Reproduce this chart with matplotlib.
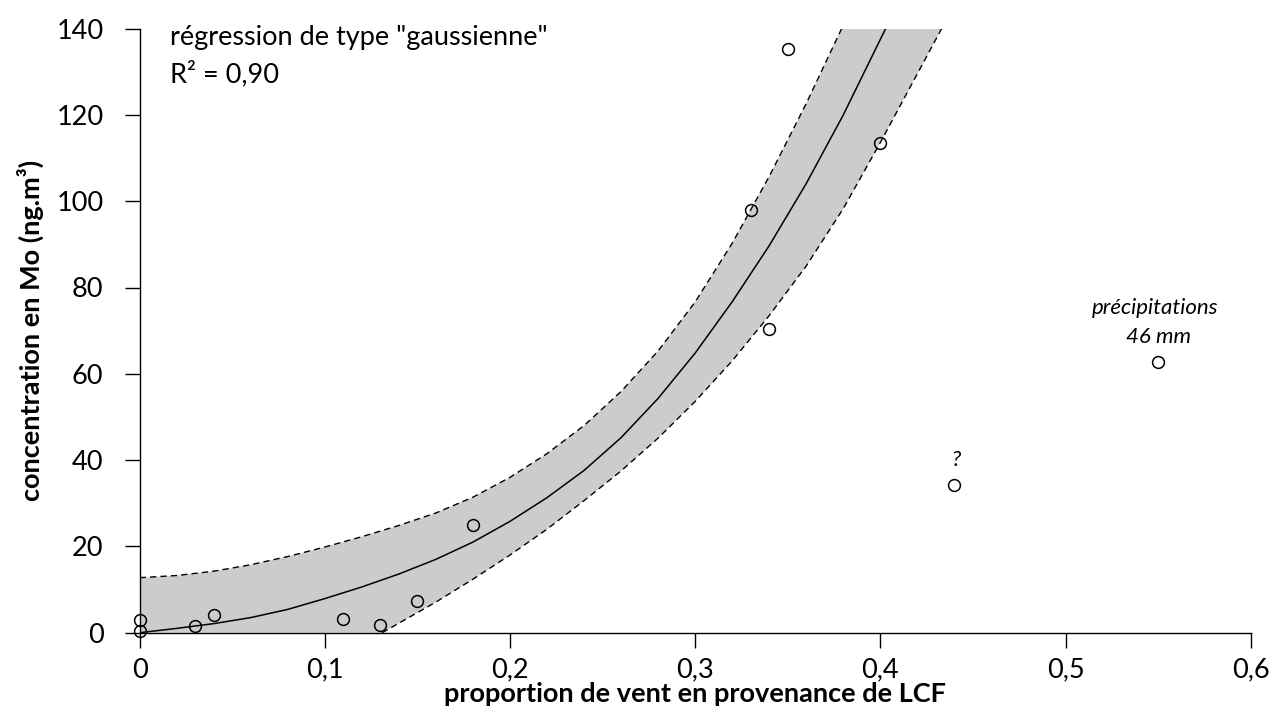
import matplotlib
matplotlib.use('Agg')
import matplotlib.pyplot as plt

plt.rcParams['font.family'] = ['Lato', 'DejaVu Sans']

# observed points
x_obs = [0.0, 0.0, 0.03, 0.04, 0.11, 0.13, 0.15, 0.18, 0.33, 0.34, 0.35, 0.40, 0.44, 0.55]
y_obs = [2.9, 0.4, 1.5, 4.2, 3.2, 1.9, 7.4, 24.9, 98.0, 70.3, 135.2, 113.5, 34.2, 62.7]

# fitted "gaussian" curve
fit_x = [0.00, 0.02, 0.04, 0.06, 0.08, 0.10, 0.12, 0.14, 0.16, 0.18, 0.20,
         0.22, 0.24, 0.26, 0.28, 0.30, 0.32, 0.34, 0.36, 0.38, 0.40, 0.4029]
fit_y = [0.0, 1.0, 2.1, 3.5, 5.4, 7.9, 10.6, 13.6, 17.0, 21.0, 25.8,
         31.3, 37.6, 45.2, 54.3, 64.8, 76.7, 89.7, 104.1, 120.0, 137.5, 140.0]

# upper confidence bound
up_x = [0.00, 0.02, 0.04, 0.06, 0.08, 0.10, 0.12, 0.14, 0.16, 0.18, 0.20,
        0.22, 0.24, 0.26, 0.28, 0.30, 0.32, 0.34, 0.36, 0.3791]
up_y = [12.75, 13.25, 14.25, 15.75, 17.65, 19.85, 22.25, 24.85, 27.75, 31.4, 36.0,
        41.5, 48.0, 55.9, 65.3, 76.65, 90.25, 105.75, 122.65, 140.0]

# lower confidence bound
lo_x = [0.131, 0.14, 0.16, 0.18, 0.20, 0.22, 0.24, 0.26, 0.28, 0.30,
        0.32, 0.34, 0.36, 0.38, 0.40, 0.4331]
lo_y = [0.0, 2.2, 7.1, 12.4, 18.0, 24.0, 30.6, 37.5, 45.1, 53.6,
        63.0, 73.5, 85.0, 98.3, 113.6, 140.0]

x_ticks = [0.0, 0.1, 0.2, 0.3, 0.4, 0.5, 0.6]
x_tick_labels = ['0', '0,1', '0,2', '0,3', '0,4', '0,5', '0,6']
y_ticks = [0, 20, 40, 60, 80, 100, 120, 140]

W, H = 1272, 724
fig = plt.figure(figsize=(W / 100, H / 100), dpi=100)
ax_l, ax_b, ax_w, ax_h = 139.6 / W, 91.3 / H, 1111.1 / W, 604.1 / H
ax = fig.add_axes([ax_l, ax_b, ax_w, ax_h])

# band
poly_x = [0.0] + up_x + [lo_x[-1]] + lo_x[::-1] + [0.0]
poly_y = [0.0] + up_y + [up_y[-1]] + lo_y[::-1] + [0.0]
ax.fill(poly_x, poly_y, color='#cccccc', lw=0, zorder=1)
ax.plot(up_x, up_y, color='black', lw=1.0, ls=(0, (4.5, 3)), zorder=2)
ax.plot(lo_x, lo_y, color='black', lw=1.0, ls=(0, (4.5, 3)), zorder=2)
ax.plot(fit_x, fit_y, color='black', lw=1.1, zorder=3, solid_joinstyle='round')

ax.plot(x_obs, y_obs, ls='none', marker='o', ms=8.5, mfc='none', mec='black',
        mew=1.1, clip_on=False, zorder=4)

ax.set_xlim(0, 0.6)
ax.set_ylim(0, 140)
ax.set_xticks(x_ticks)
ax.set_xticklabels(x_tick_labels)
ax.set_yticks(y_ticks)
for s in ['top', 'right']:
    ax.spines[s].set_visible(False)
for s in ['left', 'bottom']:
    ax.spines[s].set_linewidth(1.0)
ax.tick_params(axis='both', length=11, width=1.0, labelsize=19.5, colors='black')
ax.tick_params(axis='y', pad=15)
ax.tick_params(axis='x', pad=7)

xl = ax.set_xlabel('proportion de vent en provenance de LCF', fontsize=19.5, fontweight='bold')
xl.set_va('center')
ax.xaxis.set_label_coords(0.5, (30 - 91.3) / 604.1)
yl = ax.set_ylabel('concentration en Mo (ng.m³)', fontsize=19.5, fontweight='bold')
yl.set_va('center')
ax.yaxis.set_label_coords((30 - 139.6) / 1111.1, 0.5)

ax.text(170, H - 45, 'régression de type "gaussienne"', transform=None, fontsize=19.5,
        va='baseline', ha='left')
ax.text(170, H - 82, 'R² = 0,90', transform=None, fontsize=19.5, va='baseline', ha='left')

ax.text(0.5485, 75.2, 'précipitations', fontsize=16, style='italic', ha='center', va='center')
ax.text(0.55, 68.5, '46 mm', fontsize=16, style='italic', ha='center', va='center')
ax.text(0.441, 40.0, '?', fontsize=16, style='italic', ha='center', va='center')

fig.savefig('out.png', dpi=100)
